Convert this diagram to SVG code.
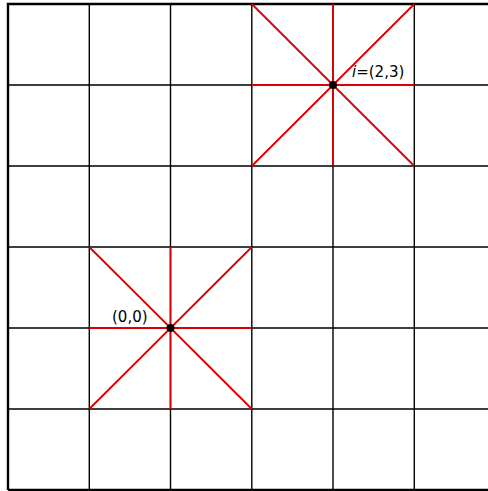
<svg xmlns="http://www.w3.org/2000/svg" width="488" height="491" viewBox="0 0 488 491">
<style>
.g{stroke:#000;stroke-width:1.4;fill:none}
.b{stroke:#000;stroke-width:2.4;fill:none}
.r{stroke:#dd0000;stroke-width:1.8;fill:none}
.t{font-family:"DejaVu Sans",sans-serif;font-size:15px;fill:#000}
</style>
<rect width="488" height="491" fill="#fff"/>
<g id="grid">
<path class="g" d="M89.3 4V490M170.5 4V490M251.8 4V490M333 4V490M414.3 4V490M8 85H488M8 166H488M8 247H488M8 328H488M8 409H488"/>
<path class="b" d="M8 490V4H488M8 490H488"/>
</g>
<g id="connectors">
<path class="r" d="M251.8 85H414.3M333 4V166M251.8 4L414.3 166M414.3 4L251.8 166"/>
<path class="r" d="M89.3 328H251.8M170.5 247V409M89.3 247L251.8 409M251.8 247L89.3 409"/>
</g>
<g id="node-i">
<circle cx="333" cy="85" r="4" fill="#000"/>
<text class="t" x="352" y="77"><tspan font-style="italic">i</tspan>=(2,3)</text>
</g>
<g id="node-origin">
<circle cx="170.5" cy="328" r="4" fill="#000"/>
<text class="t" x="112" y="322">(0,0)</text>
</g>
</svg>
